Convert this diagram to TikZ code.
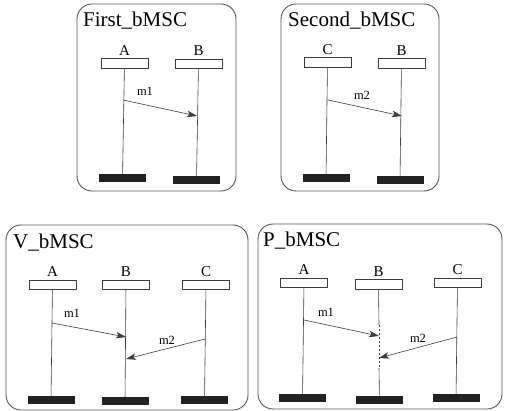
\documentclass[tikz,border=0pt]{standalone}
\usepackage{fontspec}
\setmainfont{Liberation Serif}
\usepackage{tikz}
\usetikzlibrary{positioning,arrows.meta}
\definecolor{framegray}{RGB}{85,85,85}
\definecolor{bardark}{RGB}{34,34,34}
\definecolor{linegray}{RGB}{60,60,60}
\tikzset{
  frame/.style={draw=framegray, line width=0.9pt, rounded corners=15pt},
  msctitle/.style={anchor=base west, inner sep=0pt, font=\fontsize{21}{25}\selectfont},
  head/.style={draw=linegray, line width=0.6pt, fill=white, minimum width=47pt, minimum height=9.5pt, inner sep=0pt},
  endbar/.style={fill=bardark, minimum width=47pt, minimum height=8pt, inner sep=0pt},
  inst/.style={inner sep=0pt, font=\fontsize{15}{17}\selectfont},
  life/.style={draw=linegray, line width=0.6pt},
  msg/.style={draw=linegray, line width=0.6pt, -{Stealth[length=10pt,width=6.5pt,inset=2.5pt]}},
  mlbl/.style={inner sep=0pt, font=\fontsize{12.5}{14}\selectfont}
}
\begin{document}
\begin{tikzpicture}[x=1pt,y=-1pt]
        \useasboundingbox (0,0) rectangle (505,411);

        % First_bMSC
        \draw[frame] (77,4) rectangle (236,191);
        \node[msctitle] (ft) at (83,27) {First\_bMSC};
        \foreach \n/\hx/\hy/\bx/\by in {A/124.5/63.5/122.5/178.5, B/198.5/64/196.5/180}
        {
            \node[head] (fh\n) at (\hx,\hy) {};
            \node[inst, above=3pt of fh\n] (fl\n) {\n};
            \node[endbar] (fb\n) at (\bx,\by) {};
            \draw[life] (fh\n) -- (fb\n);
        }
        \coordinate (fm1s) at (123,100);
        \coordinate (fm1e) at (197,116);
        \draw[msg] (fm1s) -- (fm1e);
        \node[mlbl] (fm1) at (145,91) {m1};

        % Second_bMSC
        \draw[frame] (281,4) rectangle (439,191);
        \node[msctitle] (st) at (288,27) {Second\_bMSC};
        \foreach \n/\hx/\hy/\bx/\by in {C/327.5/62.5/326/178, B/401.5/63.5/400/180}
        {
            \node[head] (sh\n) at (\hx,\hy) {};
            \node[inst, above=3pt of sh\n] (sl\n) {\n};
            \node[endbar] (sb\n) at (\bx,\by) {};
            \draw[life] (sh\n) -- (sb\n);
        }
        \coordinate (sm2s) at (328,100);
        \coordinate (sm2e) at (402,116);
        \draw[msg] (sm2s) -- (sm2e);
        \node[mlbl] (sm2) at (362,95) {m2};

        % V_bMSC
        \draw[frame] (6,225) rectangle (248,410);
        \node[msctitle] (vt) at (13,248) {V\_bMSC};
        \foreach \n/\hx/\hy/\bx/\by in {A/52.5/285/51/400, B/126/285/125/401, C/206/285/204.5/400}
        {
            \node[head] (vh\n) at (\hx,\hy) {};
            \node[inst, above=3pt of vh\n] (vl\n) {\n};
            \node[endbar] (vb\n) at (\bx,\by) {};
            \draw[life] (vh\n) -- (vb\n);
        }
        \coordinate (vm1s) at (52,323);
        \coordinate (vm1e) at (126,337);
        \coordinate (vm2s) at (205,339);
        \coordinate (vm2e) at (126,359);
        \draw[msg] (vm1s) -- (vm1e);
        \draw[msg] (vm2s) -- (vm2e);
        \node[mlbl] (vm1) at (72,313) {m1};
        \node[mlbl] (vm2) at (167,340) {m2};

        % P_bMSC
        \draw[frame] (258,224) rectangle (502,409);
        \node[msctitle] (pt) at (263,247) {P\_bMSC};
        \foreach \n/\hx/\hy/\bx/\by in {A/304/283/302.5/398, B/378.5/284.5/379.5/399.5, C/457.5/283/456/398}
        {
            \node[head] (ph\n) at (\hx,\hy) {};
            \node[inst, above=3pt of ph\n] (pl\n) {\n};
            \node[endbar] (pb\n) at (\bx,\by) {};
        }
        \draw[life] (phA) -- (pbA);
        \draw[life] (phC) -- (pbC);
        % B is cut between the two receipts
        \coordinate (pB1) at (379,325);
        \coordinate (pB2) at (379,368);
        \draw[life] (phB) -- (pB1);
        \draw[life, dash pattern=on 2pt off 2pt] (pB1) -- (pB2);
        \draw[life] (pB2) -- (pbB);
        \coordinate (pm1s) at (304,320);
        \coordinate (pm1e) at (379,336);
        \coordinate (pm2s) at (457,337);
        \coordinate (pm2e) at (379,358);
        \draw[msg] (pm1s) -- (pm1e);
        \draw[msg] (pm2s) -- (pm2e);
        \node[mlbl] (pm1) at (326,312) {m1};
        \node[mlbl] (pm2) at (418,338) {m2};
\end{tikzpicture}
\end{document}
